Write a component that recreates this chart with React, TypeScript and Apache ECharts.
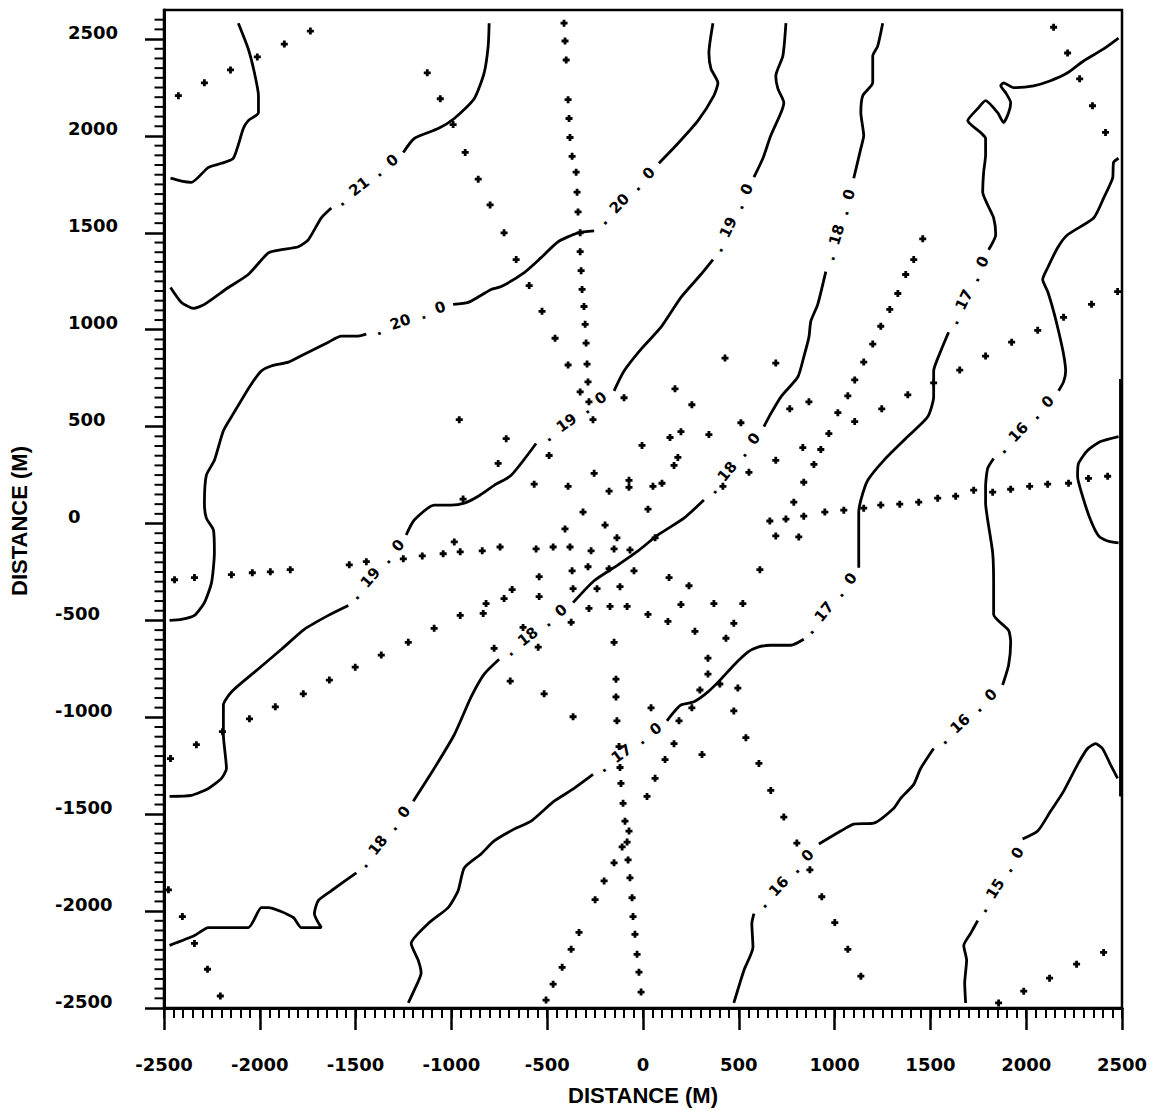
import React, { useEffect, useRef } from "react";
import * as echarts from "echarts";

// Axis tick values (metres)
const MAJOR_TICKS = [-2500, -2000, -1500, -1000, -500, 0, 500, 1000, 1500, 2000, 2500];
const X_MIN = -2500;
const X_MAX = 2500;
const Y_MIN = -2500;
const Y_MAX = 2650;

// Isotherm polylines, each an array of segments broken where the label sits
const contourCorner = [
  [[-2112, 2582], [-2060, 2449], [-2028, 2326], [-2007, 2208], [-2007, 2120], [-2060, 2079], [-2086, 2038], [-2138, 1885], [-2200, 1859], [-2268, 1838], [-2357, 1761], [-2409, 1767], [-2466, 1782]],
];
const contour21 = [
  [[-2466, 1218], [-2409, 1141], [-2346, 1110], [-2289, 1131], [-2164, 1218], [-2060, 1285], [-1955, 1397], [-1887, 1413], [-1799, 1428], [-1747, 1464], [-1679, 1577], [-1627, 1628]],
  [[-1251, 1915], [-1194, 1987], [-1069, 2038], [-985, 2090], [-881, 2192], [-829, 2326], [-808, 2464], [-803, 2582]],
];
const contour20 = [
  [[-2471, -500], [-2409, -495], [-2341, -474], [-2289, -408], [-2252, -305], [-2237, -151], [-2242, -33], [-2279, 28], [-2289, 105], [-2279, 249], [-2237, 326], [-2190, 479], [-2138, 567], [-2054, 705], [-1992, 787], [-1940, 813], [-1851, 833], [-1768, 874], [-1642, 936], [-1575, 967], [-1486, 967], [-1444, 977]],
  [[-991, 1131], [-912, 1141], [-793, 1208], [-740, 1223], [-620, 1295], [-532, 1372], [-443, 1454], [-339, 1500], [-255, 1510]],
  [[83, 1859], [182, 1961], [287, 2079], [370, 2208], [391, 2274], [355, 2346], [344, 2428], [365, 2582]],
];
const contour19 = [
  [[-2471, -1408], [-2357, -1403], [-2268, -1367], [-2200, -1315], [-2174, -1264], [-2190, -1090], [-2190, -936], [-2148, -869], [-2028, -767], [-1887, -649], [-1768, -546], [-1642, -474], [-1538, -423]],
  [[-1236, -59], [-1194, 18], [-1090, 95], [-1001, 95], [-933, 105], [-860, 141], [-777, 197], [-688, 249], [-558, 413]],
  [[-151, 685], [-99, 787], [-10, 900], [94, 1013], [198, 1167], [302, 1285], [365, 1362]],
  [[579, 1787], [626, 1885], [667, 2002], [720, 2120], [735, 2172], [704, 2244], [693, 2310], [730, 2413], [746, 2582]],
];
const contour18 = [
  [[-2471, -2177], [-2341, -2126], [-2268, -2085], [-2060, -2085], [-1992, -1982], [-1955, -1982], [-1825, -2033], [-1783, -2085], [-1679, -2085], [-1715, -2013], [-1695, -1946], [-1627, -1895], [-1496, -1803]],
  [[-1199, -1433], [-1090, -1264], [-985, -1090], [-897, -895], [-829, -777], [-751, -700]],
  [[-365, -408], [-255, -295], [-130, -213], [-26, -141], [78, -59], [214, 28], [318, 121]],
  [[631, 500], [667, 567], [720, 654], [808, 756], [839, 859], [866, 962], [876, 1044], [912, 1131], [954, 1300]],
  [[1100, 1782], [1137, 1936], [1152, 2002], [1137, 2120], [1147, 2208], [1199, 2274], [1199, 2413], [1225, 2464], [1251, 2582]],
];
const contour17 = [
  [[-1225, -2474], [-1194, -2408], [-1158, -2320], [-1173, -2254], [-1210, -2167], [-1121, -2064], [-1017, -1982], [-965, -1895], [-933, -1777], [-845, -1705], [-777, -1638], [-673, -1577], [-584, -1536], [-464, -1433], [-360, -1367], [-261, -1295]],
  [[125, -1018], [162, -972], [198, -936], [266, -920], [339, -869], [407, -803], [474, -731], [547, -664], [600, -638], [667, -628], [772, -628], [839, -597]],
  [[1126, -228], [1126, 54], [1137, 121], [1173, 223], [1257, 326], [1382, 449], [1486, 551], [1517, 654], [1517, 787], [1554, 890], [1595, 987]],
  [[1804, 1413], [1841, 1490], [1830, 1577], [1799, 1644], [1773, 1710], [1778, 1813], [1788, 1900], [1788, 1987], [1762, 2018], [1695, 2079], [1747, 2141], [1788, 2182], [1851, 2120], [1882, 2069], [1908, 2120], [1919, 2172], [1893, 2223], [1867, 2259], [1882, 2274], [1934, 2249], [2039, 2259], [2127, 2285], [2216, 2326], [2299, 2387], [2404, 2449], [2482, 2505]],
];
const contour16 = [
  [[474, -2474], [527, -2305], [574, -2187], [568, -2064], [579, -2013]],
  [[918, -1654], [1032, -1587], [1100, -1551], [1204, -1546], [1309, -1469], [1345, -1418], [1413, -1346], [1449, -1264], [1517, -1161]],
  [[1877, -833], [1908, -731], [1919, -613], [1908, -551], [1830, -469], [1830, -305], [1825, -151], [1799, 18], [1788, 105], [1788, 192], [1799, 285], [1830, 336]],
  [[2169, 685], [2195, 731], [2206, 787], [2195, 874], [2169, 992], [2143, 1095], [2112, 1197], [2086, 1259], [2112, 1320], [2164, 1423], [2216, 1490], [2352, 1577], [2404, 1679], [2451, 1782], [2456, 1864], [2482, 1885]],
];
const contourLoop = [
  [[2482, 449], [2388, 423], [2320, 377], [2273, 310], [2268, 244], [2294, 141], [2336, 18], [2378, -64], [2425, -90], [2482, -100]],
];
const contour15 = [
  [[1684, -2474], [1679, -2372], [1689, -2254], [1674, -2177], [1710, -2115], [1747, -2049]],
  [[1981, -1628], [2060, -1587], [2127, -1485], [2195, -1382], [2268, -1244], [2320, -1161], [2362, -1136], [2398, -1161], [2440, -1244], [2477, -1315]],
];
const contourEdge = [
  [[2492, 746], [2492, -1408]],
];

// Contour labels: text, position, rotation (degrees)
const contourLabels = [
  { text: "21.0", x: -1439, y: 1772, angle: 38 },
  { text: "20.0", x: -1215, y: 1058, angle: 20 },
  { text: "20.0", x: -85, y: 1690, angle: 46 },
  { text: "19.0", x: -1387, y: -238, angle: 49 },
  { text: "19.0", x: -355, y: 551, angle: 36 },
  { text: "19.0", x: 469, y: 1577, angle: 64 },
  { text: "18.0", x: -1350, y: -1618, angle: 52 },
  { text: "18.0", x: -558, y: -551, angle: 38 },
  { text: "18.0", x: 474, y: 310, angle: 51 },
  { text: "18.0", x: 1027, y: 1541, angle: 73 },
  { text: "17.0", x: -68, y: -1156, angle: 36 },
  { text: "17.0", x: 980, y: -413, angle: 51 },
  { text: "17.0", x: 1700, y: 1203, angle: 64 },
  { text: "16.0", x: 746, y: -1833, angle: 47 },
  { text: "16.0", x: 1695, y: -997, angle: 43 },
  { text: "16.0", x: 1997, y: 510, angle: 46 },
  { text: "15.0", x: 1867, y: -1839, angle: 58 },
];

// Sampling stations along the survey transects
const transectWNW = [[-2425, 2208], [-2289, 2274], [-2153, 2341], [-2013, 2408], [-1872, 2474], [-1736, 2541]];
const transectNW = [[-1126, 2326], [-1058, 2192], [-991, 2059], [-928, 1915], [-860, 1777], [-798, 1644], [-725, 1500], [-662, 1362], [-594, 1228], [-527, 1095], [-459, 956], [-391, 818]];
const transectN = [[-412, 2582], [-407, 2490], [-401, 2392], [-391, 2187], [-386, 2090], [-381, 1992], [-370, 1895], [-349, 1813], [-344, 1710], [-339, 1608], [-328, 1500], [-328, 1403], [-323, 1305], [-318, 1208], [-308, 1120], [-302, 1028], [-297, 931], [-292, 823], [-287, 731], [-328, 679], [-282, 628], [-261, 536]];
const stationsCore = [
  [-99, 649], [-959, 536], [-714, 438], [-756, 310], [-490, 351], [-939, 126], [-568, 203], [-391, 192], [-255, 259], [-177, 167],
  [-73, 223], [-73, 187], [52, 192], [99, 208], [26, 74], [-313, 59], [-5, 403], [141, 444], [198, 474], [182, 341],
  [162, 300], [167, 695], [255, 613], [344, 459], [428, 854], [693, 828], [511, 520], [766, 592], [866, 628], [693, 326],
  [834, 392], [553, 264], [417, 192], [787, 110], [662, 13], [746, 23], [839, 38], [693, -64], [813, -69], [610, -238],
  [-407, -28], [-198, -8], [-136, -74], [-985, -95], [-954, -146], [-839, -141], [-746, -121], [-558, -131], [-469, -121], [-381, -121],
  [-271, -141], [-151, -131], [-68, -136], [63, -74], [-370, -244], [-287, -223], [-177, -233], [-47, -244], [-542, -274], [-542, -377],
  [-365, -336], [-240, -336], [-120, -326], [136, -279], [240, -321], [-683, -341], [-725, -387], [-819, -413], [-834, -464], [-954, -474],
  [-282, -438], [-172, -428], [-83, -428], [26, -469], [198, -418], [370, -413], [521, -413], [474, -515], [130, -505], [271, -556],
  [433, -592], [-375, -510], [-626, -536], [-777, -644], [-547, -638], [-151, -613], [339, -695], [339, -777], [-693, -813], [-141, -803],
  [401, -828], [495, -849], [297, -859], [-516, -879], [-141, -895], [42, -951], [188, -1018], [255, -951], [308, -1192], [-365, -997],
];
const transectS = [[-136, -1018], [-125, -1151], [-120, -1259], [-115, -1341], [-104, -1444], [-94, -1536], [-73, -1587], [-83, -1644], [-109, -1669], [-78, -1736], [-68, -1828], [-57, -1931], [-52, -2028], [-42, -2120], [-31, -2223], [-21, -2315], [-10, -2418]];
const transectSSW = [[162, -1136], [115, -1218], [63, -1315], [21, -1408], [-151, -1751], [-203, -1844], [-250, -1941], [-334, -2110], [-375, -2197], [-422, -2290], [-469, -2377], [-506, -2459]];
const transectSE = [[474, -967], [537, -1105], [605, -1238], [667, -1377], [735, -1515], [803, -1649], [871, -1787], [933, -1926], [1001, -2059], [1069, -2197], [1137, -2336]];
const transectNNE = [[2143, 2561], [2216, 2428], [2279, 2295], [2346, 2156], [2414, 2018]];
const transectNE = [[1460, 1469], [1413, 1362], [1371, 1285], [1330, 1187], [1288, 1105], [1241, 1018], [1199, 926], [1152, 833], [1105, 741], [1069, 659], [1017, 572], [970, 464], [928, 382], [892, 305], [839, 213]];
const transectENE = [[2477, 1197], [2341, 1131], [2195, 1064], [2060, 997], [1924, 936], [1788, 864], [1653, 792], [1517, 726], [1382, 664], [1246, 592], [1105, 526]];
const transectE = [[2425, 244], [2325, 233], [2221, 208], [2112, 203], [2018, 192], [1919, 177], [1825, 162], [1726, 172], [1632, 141], [1538, 131], [1439, 110], [1340, 100], [1241, 95], [1152, 79], [1048, 69], [949, 59]];
const transectESE = [[1856, -2474], [1987, -2413], [2122, -2346], [2263, -2274], [2404, -2213]];
const transectW = [[-2445, -290], [-2341, -279], [-2148, -264], [-2039, -254], [-1945, -249], [-1841, -238], [-1533, -213], [-1444, -197], [-1251, -182], [-1152, -167], [-1043, -156]];
const transectWSW = [[-2466, -1213], [-2331, -1141], [-2195, -1074], [-2054, -1008], [-1919, -946], [-1773, -879], [-1637, -808], [-1502, -741], [-1366, -679], [-1225, -613], [-1090, -541]];
const transectSW = [[-2477, -1890], [-2404, -2028], [-2341, -2167], [-2273, -2300], [-2206, -2438]];

const TICK_FONT = "'DejaVu Sans', 'Liberation Sans', sans-serif";
const TITLE_FONT = "'Liberation Sans Narrow', 'Liberation Sans', 'DejaVu Sans', sans-serif";
const NBSP = "\u00a0";
const STATION_SYMBOL = "path://M3,0H7V3H10V7H7V10H3V7H0V3H3Z";

function spacedLabel(t: string): string {
  const [whole, frac] = t.split(".");
  const gap = NBSP + NBSP;
  return "." + gap + whole + gap + "." + gap + frac;
}

// 50 m marks along the left axis between the labelled values
function yMinorMarks(): number[][] {
  const out: number[][] = [];
  for (let v = Y_MIN; v <= 2600; v += 50) {
    if (Math.abs(v % 500) !== 0) out.push([X_MIN, v]);
  }
  return out;
}

export default function App() {
  const ref = useRef<HTMLDivElement>(null);

  useEffect(() => {
    document.body.style.margin = "0";
    if (!ref.current) return;
    const chart = echarts.init(ref.current, null, { renderer: "svg" });

    const contourSets = [contourCorner, contour21, contour20, contour19, contour18, contour17, contour16, contourLoop, contour15, contourEdge];
    const lineSeries: any[] = [];
    contourSets.forEach((set) => {
      set.forEach((seg) => {
        lineSeries.push({
          type: "line",
          data: seg,
          symbol: "none",
          smooth: 0.2,
          silent: true,
          z: 3,
          lineStyle: { color: "#000", width: 2.8 },
        });
      });
    });

    const stations = [
      ...transectWNW, ...transectNW, ...transectN, ...stationsCore, ...transectS, ...transectSSW,
      ...transectSE, ...transectNNE, ...transectNE, ...transectENE, ...transectE, ...transectESE,
      ...transectW, ...transectWSW, ...transectSW,
    ];

    const labelFont = {
      fontFamily: TICK_FONT,
      fontWeight: "bold",
      fontSize: 18,
      color: "#000",
    };
    const titleStyle = { fontFamily: TITLE_FONT, fontWeight: "bold", fontSize: 22, color: "#000" };

    chart.setOption({
      animation: false,
      backgroundColor: "#fff",
      grid: {
        left: 163,
        right: 35,
        top: 10,
        bottom: 98,
        show: true,
        borderColor: "#000",
        borderWidth: 2.5,
        backgroundColor: "transparent",
      },
      xAxis: [
        {
          type: "value",
          min: X_MIN,
          max: X_MAX,
          interval: 500,
          position: "bottom",
          axisLine: { show: true, onZero: false, lineStyle: { color: "#000", width: 3 } },
          axisTick: { show: true, inside: false, length: 22, customValues: MAJOR_TICKS, lineStyle: { color: "#000", width: 2.5 } },
          axisLabel: { ...labelFont, customValues: MAJOR_TICKS, margin: 47, formatter: (v: number) => String(v) },
          splitLine: { show: false },
          name: "DISTANCE (M)",
          nameLocation: "middle",
          nameGap: 76,
          nameTextStyle: titleStyle,
        },
        {
          // minor ticks every 50 m
          type: "value",
          min: X_MIN,
          max: X_MAX,
          interval: 50,
          position: "bottom",
          axisLine: { show: false, onZero: false },
          axisTick: { show: true, inside: false, length: 10, lineStyle: { color: "#000", width: 2 } },
          axisLabel: { show: false },
          splitLine: { show: false },
        },
      ],
      yAxis: {
        type: "value",
        min: Y_MIN,
        max: Y_MAX,
        interval: 500,
        position: "left",
        axisLine: { show: true, onZero: false, lineStyle: { color: "#000", width: 3 } },
        axisTick: { show: true, inside: false, length: 19, customValues: MAJOR_TICKS, lineStyle: { color: "#000", width: 2.5 } },
        axisLabel: {
          customValues: MAJOR_TICKS,
          align: "left",
          verticalAlign: "bottom",
          margin: 109,
          padding: [0, 0, -2, 0],
          formatter: (v: number) => (v < 0 ? `{n|${v}}` : `{p|${v}}`),
          rich: {
            n: { ...labelFont },
            p: { ...labelFont, padding: [0, 0, 0, 13] },
          },
        },
        splitLine: { show: false },
        name: "DISTANCE (M)",
        nameLocation: "middle",
        nameGap: 134,
        nameTextStyle: { ...titleStyle, padding: [0, 24, 0, 0] },
      },
      series: [
        ...lineSeries,
        {
          // short outward marks on the left axis, every 50 m
          type: "scatter",
          data: yMinorMarks(),
          symbol: "rect",
          symbolSize: [9, 2],
          symbolOffset: [-5, 0],
          clip: false,
          silent: true,
          z: 6,
          itemStyle: { color: "#000", opacity: 1 },
        },
        {
          type: "scatter",
          data: stations,
          symbol: STATION_SYMBOL,
          symbolSize: 7,
          silent: true,
          z: 4,
          itemStyle: { color: "#000", opacity: 1 },
        },
        {
          type: "scatter",
          data: contourLabels.map((l) => ({
            name: spacedLabel(l.text),
            value: [l.x, l.y],
            label: { rotate: l.angle },
          })),
          symbolSize: 0,
          silent: true,
          z: 5,
          itemStyle: { opacity: 1 },
          label: {
            show: true,
            position: "inside",
            formatter: "{b}",
            fontFamily: TICK_FONT,
            fontWeight: "bold",
            fontSize: 15,
            color: "#000",
            opacity: 1,
            textBorderWidth: 0,
          },
        },
      ],
    });

    return () => chart.dispose();
  }, []);

  return <div ref={ref} style={{ width: 1157, height: 1111 }} />;
}
